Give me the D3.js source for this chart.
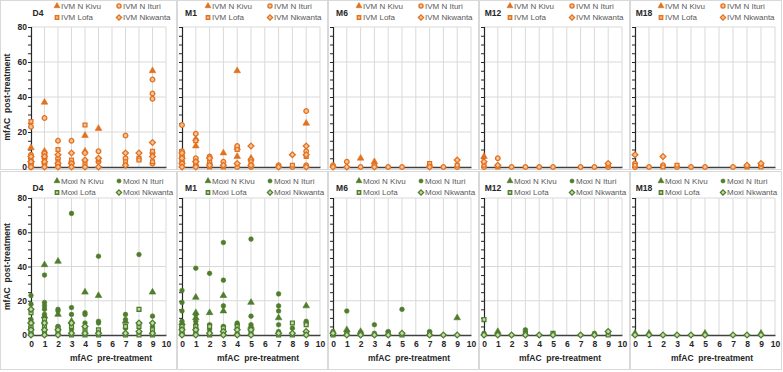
<!DOCTYPE html>
<html>
<head>
<meta charset="utf-8">
<script src="https://cdn.jsdelivr.net/npm/d3@7"></script>
<style>
  body { margin: 0; background: #fff; }
  text { font-family: "Liberation Sans", Arial, sans-serif; }
</style>
</head>
<body>
<script>
// ---- data: [pre-treatment mfAC, post-treatment mfAC, site index] ----
const sites = ["N Kivu", "N Ituri", "Lofa", "Nkwanta"];
const timepoints = ["D4", "M1", "M6", "M12", "M18"];
const drugs = ["IVM", "Moxi"];
const yTicks = [0, 20, 40, 60, 80];
const xTicks = [0, 1, 2, 3, 4, 5, 6, 7, 8, 9, 10];

const ivm_D4 = [
  [0,26,2],[0,23,1],[0,11,0],[0,7,1],[0,6,3],[0,5,2],[0,4,0],[0,3,3],[0,2,1],[0,1,2],[0,0,3],[0,0,1],
  [1,37,0],[1,28,1],[1,9,0],[1,8,2],[1,7,1],[1,6,3],[1,5,1],[1,4,2],[1,3,3],[1,2,1],[1,1,2],[1,0,3],
  [2,15,1],[2,10,2],[2,7,3],[2,5,1],[2,3,2],[2,2,3],[2,1,1],[2,0,3],
  [3,15,1],[3,8,3],[3,4,2],[3,3,1],[3,2,3],[3,1,2],[3,0,3],
  [4,24,2],[4,18,0],[4,9,0],[4,8,1],[4,4,3],[4,2,2],[4,0,3],
  [5,22,0],[5,9,1],[5,5,3],[5,4,2],[5,3,1],[5,0,3],
  [7,18,1],[7,8,3],[7,5,1],[7,3,2],[7,1,3],
  [8,8,3],[8,5,2],[8,4,2],
  [9,55,0],[9,50,1],[9,42,1],[9,39,1],[9,14,3],[9,9,2],[9,8,1],[9,6,3],[9,3,2],[9,2,1]
];
const ivm_M1 = [
  [0,24,1],[0,9,1],[0,8,3],[0,7,2],[0,6,1],[0,5,3],[0,4,2],[0,3,1],[0,2,3],[0,1,2],[0,0,3],
  [1,19,1],[1,16,0],[1,15,2],[1,12,0],[1,5,1],[1,4,0],[1,3,3],[1,2,2],[1,1,1],[1,0,3],
  [2,6,1],[2,5,3],[2,3,2],[2,2,1],[2,1,3],[2,0,2],
  [3,8,0],[3,3,1],[3,1,3],[3,0,2],
  [4,55,0],[4,12,1],[4,11,0],[4,10,2],[4,6,0],[4,2,3],[4,0,1],
  [5,12,3],[5,5,0],[5,4,1],[5,3,2],[5,1,3],[5,0,1],
  [7,1,1],[7,0,3],
  [8,7,3],[8,1,2],[8,0,1],
  [9,32,1],[9,25,0],[9,12,3],[9,9,1],[9,7,3],[9,6,2],[9,1,1],[9,0,3]
];
const ivm_M6 = [
  [0,1,1],[0,0,3],[1,3,1],[1,0,3],[2,5,0],[2,0,1],[3,3,0],[3,1,1],[3,0,3],[4,0,1],[5,0,1],
  [7,2,2],[7,1,1],[7,0,3],[8,0,1],[9,4,3],[9,1,2],[9,0,1]
];
const ivm_M12 = [
  [0,6,0],[0,3,3],[0,1,2],[0,0,1],[1,5,1],[1,1,3],[1,0,2],[2,0,1],[3,0,1],[4,0,1],[5,0,1],
  [7,0,1],[8,0,1],[9,2,3],[9,1,2],[9,0,1]
];
const ivm_M18 = [
  [0,7,3],[0,2,1],[0,1,2],[0,0,1],[1,0,1],[2,6,3],[2,1,1],[2,0,2],[3,1,2],[3,0,1],[4,0,1],
  [5,0,1],[7,0,1],[8,1,3],[8,0,2],[9,2,3],[9,1,1],[9,0,2]
];

const moxi_D4 = [
  [0,23,1],[0,18,1],[0,15,3],[0,13,2],[0,9,1],[0,8,0],[0,7,3],[0,5,2],[0,4,1],[0,3,3],[0,2,2],[0,1,1],[0,0,3],
  [1,41,0],[1,35,1],[1,19,1],[1,17,1],[1,15,1],[1,12,1],[1,11,0],[1,10,1],[1,9,2],[1,8,1],[1,7,3],[1,6,1],[1,5,2],[1,3,3],[1,1,2],[1,0,3],
  [2,43,0],[2,15,1],[2,14,1],[2,12,0],[2,5,1],[2,4,2],[2,3,3],[2,1,2],[2,0,3],
  [3,71,1],[3,16,1],[3,12,1],[3,8,0],[3,7,3],[3,5,2],[3,3,1],[3,1,3],[3,0,2],
  [4,25,0],[4,13,1],[4,12,1],[4,7,1],[4,5,3],[4,3,2],[4,1,3],[4,0,2],
  [5,46,1],[5,23,0],[5,8,1],[5,7,1],[5,3,2],[5,1,3],[5,0,2],
  [7,12,1],[7,9,1],[7,8,0],[7,5,2],[7,4,1],[7,1,3],[7,0,2],
  [8,47,1],[8,15,2],[8,7,3],[8,5,2],[8,2,3],[8,0,2],
  [9,25,0],[9,11,1],[9,7,3],[9,5,1],[9,3,2],[9,1,3],[9,0,2]
];
const moxi_M1 = [
  [0,26,1],[0,19,1],[0,14,1],[0,8,1],[0,7,0],[0,6,1],[0,5,2],[0,4,1],[0,3,3],[0,2,2],[0,1,1],[0,0,3],
  [1,39,1],[1,22,0],[1,13,0],[1,12,1],[1,10,0],[1,8,1],[1,6,1],[1,5,2],[1,4,1],[1,3,3],[1,1,2],[1,0,3],
  [2,36,1],[2,13,0],[2,6,1],[2,5,2],[2,3,1],[2,1,3],[2,0,2],
  [3,54,1],[3,32,1],[3,23,0],[3,17,1],[3,14,0],[3,5,1],[3,4,2],[3,2,3],[3,1,1],[3,0,3],
  [4,7,1],[4,6,1],[4,5,2],[4,3,3],[4,1,1],[4,0,3],
  [5,56,1],[5,19,0],[5,11,1],[5,6,1],[5,5,0],[5,3,3],[5,1,2],[5,0,3],
  [7,24,1],[7,17,1],[7,14,1],[7,10,0],[7,6,1],[7,2,1],[7,1,3],[7,0,2],
  [8,7,2],[8,4,1],[8,1,3],[8,0,2],
  [9,17,0],[9,8,1],[9,7,1],[9,6,2],[9,2,3],[9,1,2],[9,0,3]
];
const moxi_M6 = [
  [0,2,1],[0,1,3],[0,0,2],[1,14,1],[1,3,0],[1,2,1],[1,1,2],[1,0,3],[2,2,0],[2,1,2],[2,0,3],
  [3,6,1],[3,1,1],[3,0,3],[4,2,1],[4,1,2],[4,0,3],[5,15,1],[5,1,3],[5,0,2],
  [7,2,1],[7,1,2],[7,0,3],[8,0,3],[9,10,0],[9,0,3]
];
const moxi_M12 = [
  [0,9,2],[0,1,1],[0,0,3],[1,2,0],[1,0,3],[2,0,3],[3,3,1],[3,1,2],[3,0,3],[4,0,3],
  [5,1,2],[5,0,3],[7,0,3],[8,1,1],[8,0,3],[9,2,3],[9,0,2]
];
const moxi_M18 = [
  [0,1,0],[0,0,3],[1,1,0],[1,0,3],[2,0,3],[3,0,3],[4,0,3],[5,1,0],[5,0,3],
  [7,0,3],[8,0,3],[9,1,0],[9,0,3]
];

const panelData = [
  [ivm_D4, ivm_M1, ivm_M6, ivm_M12, ivm_M18],
  [moxi_D4, moxi_M1, moxi_M6, moxi_M12, moxi_M18]
];

// ---- layout ----
const svgWidth = 783;
const svgHeight = 372;
const panelLeft = [0, 177, 328, 479, 630];
const panelWidth = [177, 151, 151, 151, 152];
const plotX0 = [31, 182, 333, 484, 635];
const plotX1 = [166, 320, 471, 622, 775];
const rowsLayout = [
  {top: 0, height: 170, yTop: 27, yBottom: 167, legendY: 6},
  {top: 171, height: 199, yTop: 198, yBottom: 335, legendY: 181}
];

const palette = [
  {main: "#E2711D", light: "#F7C29A"},   // IVM orange
  {main: "#4F7D2C", light: "#C3DCAE"}    // Moxi green
];
// square diamond (Excel style), not the tall d3 one
const squareDiamond = {
  draw(context, size) {
    const r = Math.sqrt(size / 2);
    context.moveTo(0, -r);
    context.lineTo(r, 0);
    context.lineTo(0, r);
    context.lineTo(-r, 0);
    context.closePath();
  }
};
const symbolTypes = [d3.symbolTriangle, d3.symbolCircle, d3.symbolSquare, squareDiamond];
const symbolSizes = [19, 17, 15, 17];

function markerStyle(sel, drugIdx, site) {
  const c = palette[drugIdx];
  // Kivu solid; Ituri solid for Moxi, ringed for IVM; Lofa & Nkwanta ringed
  const solid = site === 0 || (site === 1 && drugIdx === 1);
  sel.attr("fill", solid ? c.main : c.light)
     .attr("stroke", c.main)
     .attr("stroke-width", solid ? 0.6 : 1.3);
}

const svg = d3.select("body")
  .append("svg")
  .attr("width", svgWidth)
  .attr("height", svgHeight);

svg.append("rect").attr("width", svgWidth).attr("height", svgHeight).attr("fill", "#fff");

rowsLayout.forEach((row, r) => {
  timepoints.forEach((tp, c) => {
    const g = svg.append("g");

    // panel border
    g.append("rect")
      .attr("x", panelLeft[c] + 0.5)
      .attr("y", row.top + 0.5)
      .attr("width", panelWidth[c] - 1)
      .attr("height", row.height - 1)
      .attr("fill", "none")
      .attr("stroke", "#D9D9D9");

    const x = d3.scaleLinear().domain([0, 10]).range([plotX0[c], plotX1[c]]);
    const y = d3.scaleLinear().domain([0, 80]).range([row.yBottom, row.yTop]);

    // gridlines
    g.append("g").selectAll("line")
      .data(xTicks.slice(1))
      .join("line")
      .attr("x1", d => x(d)).attr("x2", d => x(d))
      .attr("y1", y(0)).attr("y2", y(80))
      .attr("stroke", "#D9D9D9").attr("stroke-width", 1);
    g.append("g").selectAll("line")
      .data(yTicks.slice(1))
      .join("line")
      .attr("x1", x(0)).attr("x2", x(10))
      .attr("y1", d => y(d)).attr("y2", d => y(d))
      .attr("stroke", "#D9D9D9").attr("stroke-width", 1);

    // y axis with ticks every 5
    const yAxis = d3.axisLeft(y)
      .tickValues(d3.range(0, 81, 5))
      .tickSize(3)
      .tickFormat(d => (c === 0 && yTicks.includes(d)) ? d : "");
    const yG = g.append("g")
      .attr("transform", `translate(${x(0)},0)`)
      .call(yAxis);
    yG.select(".domain").attr("stroke", "#262626").attr("stroke-width", 1.2);
    yG.selectAll(".tick line").attr("stroke", "#262626");
    yG.selectAll(".tick text")
      .attr("fill", "#262626")
      .style("font-size", "8.5px")
      .style("font-weight", "bold")
      .attr("x", -4);

    // x axis
    const xAxis = d3.axisBottom(x).tickValues(xTicks).tickSize(0)
      .tickFormat(d => r === 1 ? d : "");
    const xG = g.append("g")
      .attr("transform", `translate(0,${y(0)})`)
      .call(xAxis);
    xG.select(".domain").attr("stroke", "#404040").attr("stroke-width", 1.5);
    xG.selectAll(".tick text")
      .attr("fill", "#262626")
      .attr("y", 6)
      .style("font-size", "8.5px")
      .style("font-weight", "bold");

    if (r === 1) {
      g.append("text")
        .attr("x", c === 0 ? 111 : (plotX0[c] + plotX1[c]) / 2 + 7)
        .attr("y", 361)
        .attr("text-anchor", "middle")
        .attr("fill", "#262626")
        .style("font-size", "8.5px")
        .style("font-weight", "bold")
        .style("white-space", "pre")
        .text("mfAC  pre-treatment");
    }
    if (c === 0) {
      g.append("text")
        .attr("transform", `translate(10,${(row.yTop + row.yBottom) / 2}) rotate(-90)`)
        .attr("text-anchor", "middle")
        .attr("fill", "#262626")
        .style("font-size", "8.5px")
        .style("font-weight", "bold")
        .style("white-space", "pre")
        .text("mfAC  post-treatment");
    }

    // title
    const titleX = c === 0 ? 38 : panelLeft[c] + 14;
    g.append("text")
      .attr("x", titleX)
      .attr("y", row.legendY + 7)
      .attr("dy", "0.35em")
      .attr("text-anchor", "middle")
      .attr("fill", "#262626")
      .style("font-size", "8.5px")
      .style("font-weight", "bold")
      .text(tp);

    // legend 2x2
    const legX = c === 0 ? 57 : panelLeft[c] + 31;
    const leg = g.append("g").selectAll("g")
      .data(sites)
      .join("g")
      .attr("transform", (d, i) => `translate(${legX + (i % 2) * 62},${row.legendY + Math.floor(i / 2) * 11.5})`);
    leg.append("path")
      .attr("d", (d, i) => d3.symbol().type(symbolTypes[i]).size(symbolSizes[i] * 0.8)())
      .each(function (d, i) { markerStyle(d3.select(this), r, i); });
    leg.append("text")
      .attr("x", 4)
      .attr("dy", "0.35em")
      .attr("fill", "#595959")
      .style("font-size", "8px")
      .text(d => (r === 0 ? "IVM " : "Moxi ") + d);

    // points, series drawn in site order so Nkwanta sits on top
    const pts = panelData[r][c].slice().sort((a, b) => a[2] - b[2]);
    g.append("g").selectAll("path")
      .data(pts)
      .join("path")
      .attr("transform", d => `translate(${x(d[0])},${y(d[1])})`)
      .attr("d", d => d3.symbol().type(symbolTypes[d[2]]).size(symbolSizes[d[2]])())
      .each(function (d) { markerStyle(d3.select(this), r, d[2]); });
  });
});
</script>
</body>
</html>
